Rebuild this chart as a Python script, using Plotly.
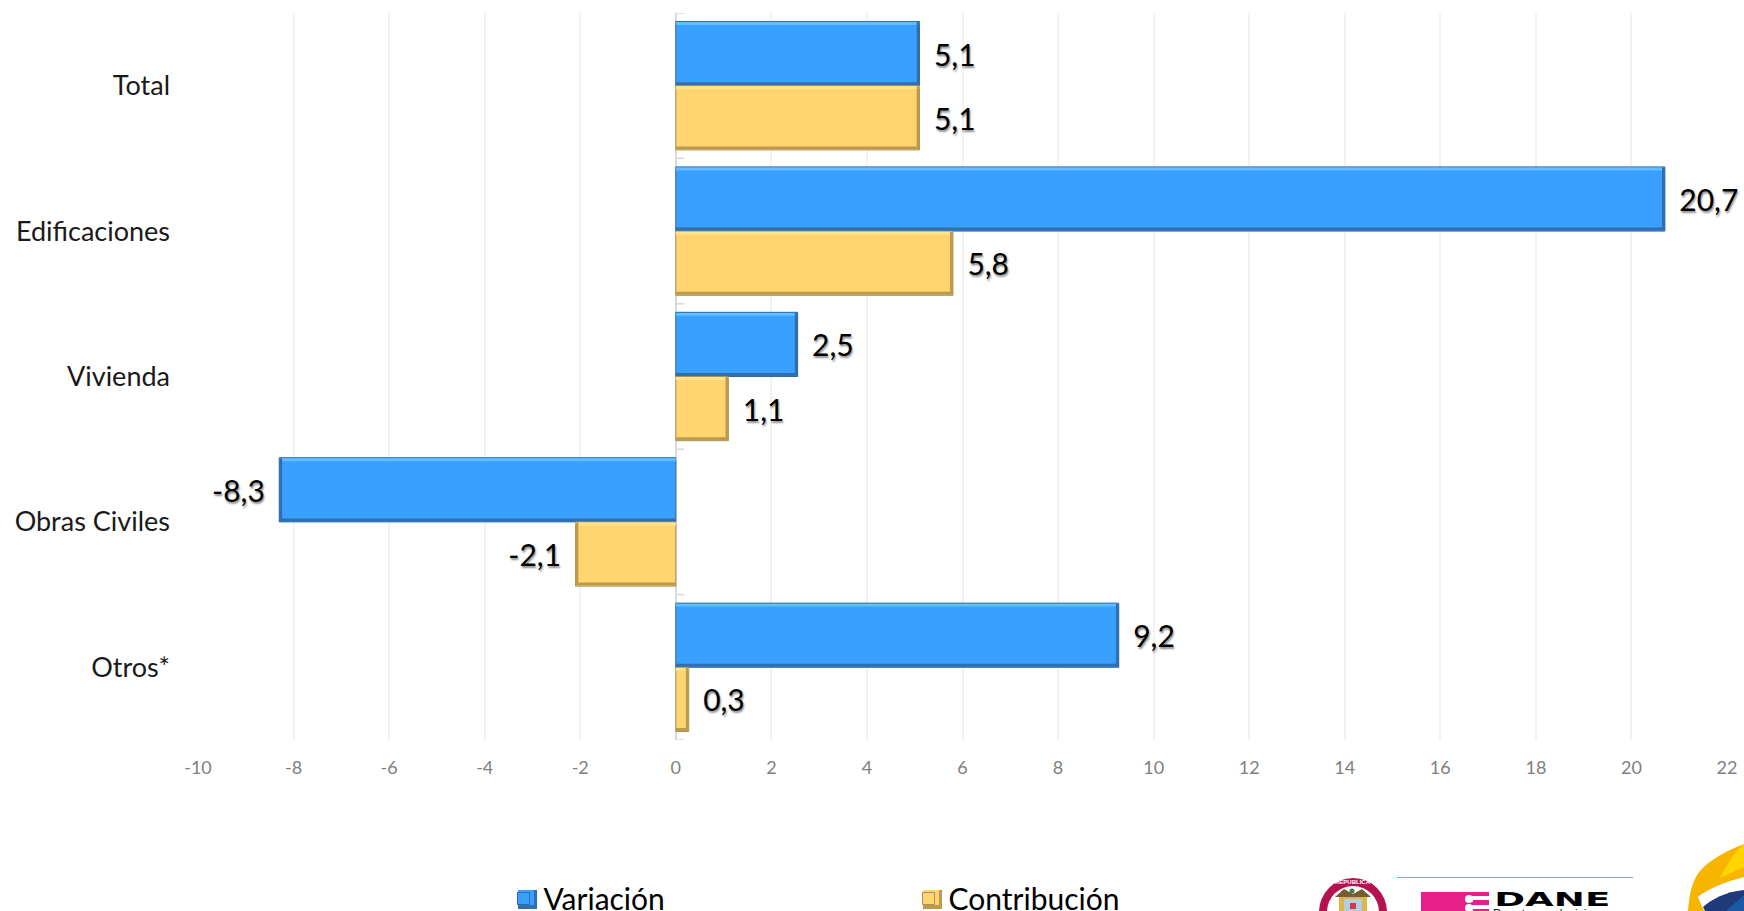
import plotly.graph_objects as go

categories = ['Total', 'Edificaciones', 'Vivienda', 'Obras Civiles', 'Otros*']
variacion = [5.1, 20.7, 2.55, -8.3, 9.27]
contribucion = [5.1, 5.8, 1.1, -2.1, 0.27]
variacion_labels = ['5,1', '20,7', '2,5', '-8,3', '9,2']
contribucion_labels = ['5,1', '5,8', '1,1', '-2,1', '0,3']
x_ticks = list(range(-10, 24, 2))

W, H = 1744, 911
L, R, T, B = 198, 17, 13, 171
FONT = 'Lato'
BLUE = dict(fill='#39A0FF', light='#62BEFF', dark='#2F6FB0', line='#2C6CA8')
GOLD = dict(fill='#FFD56F', light='#FFE590', dark='#BD9A4C', line='#A8905A')
BAR_GAP = 0.117
BAR_W = (1 - BAR_GAP) / 2


def px(x):
    return (x - L) / (W - L - R)


def py(y):
    return 1 - (y - T) / (H - T - B)


def pad(labels):
    sp = '\u00a0\u2009'
    return [sp + t + sp for t in labels]


fig = go.Figure()
for name, values, text, col in [('Variación', variacion, variacion_labels, BLUE),
                                ('Contribución', contribucion, contribucion_labels, GOLD)]:
    fig.add_trace(go.Bar(
        y=categories,
        x=values,
        name=name,
        orientation='h',
        marker=dict(color=col['fill'], line=dict(color=col['line'], width=1)),
        text=pad(text),
        textposition='outside',
        constraintext='none',
        cliponaxis=False,
        textfont=dict(family=FONT, size=30, color='#000000',
                      shadow='1px 2px 2px rgba(0,0,0,0.45)'),
        hoverinfo='skip',
    ))

shapes = []


def rect(x0, x1, y0, y1, color, **kw):
    shapes.append(dict(type='rect', x0=x0, x1=x1, y0=y0, y1=y1, fillcolor=color,
                       line=dict(width=0), **kw))


def pxrect(x0, x1, y0, y1, color):
    rect(px(x0), px(x1), py(y0), py(y1), color, xref='paper', yref='paper')


def circle(cx, cy, r, color):
    shapes.append(dict(type='circle', xref='paper', yref='paper', x0=px(cx - r), x1=px(cx + r),
                       y0=py(cy - r), y1=py(cy + r), fillcolor=color, line=dict(width=0)))


def path(points, color):
    d = 'M' + ' '.join(points) + ' Z'
    shapes.append(dict(type='path', xref='paper', yref='paper', path=d,
                       fillcolor=color, line=dict(width=0)))


def p(x, y):
    return f'{px(x):.5f},{py(y):.5f}'


# bisel de las barras (excel 3d)
for offset, values, col in [(-BAR_W, variacion, BLUE), (0, contribucion, GOLD)]:
    for i, v in enumerate(values):
        top = i + offset
        sign = 1 if v > 0 else -1
        rect(0, v, top + 0.004, top + 0.024, col['light'], xref='x', yref='y')
        rect(0, v, top + BAR_W - 0.024, top + BAR_W - 0.004, col['dark'], xref='x', yref='y')
        rect(v - sign * 0.06, v, top + 0.004, top + BAR_W - 0.004, col['dark'], xref='x', yref='y')

# marcas del eje de categorias
for i in range(len(categories) + 1):
    shapes.append(dict(type='line', xref='x', yref='y', x0=0, x1=0.18, y0=i - 0.5, y1=i - 0.5,
                       line=dict(color='#D9D9D9', width=1.5), layer='below'))

# cuadros de la leyenda
for x0, col in [(518, BLUE), (923, GOLD)]:
    pxrect(x0, x0 + 19, 890, 909, col['fill'])
    pxrect(x0, x0 + 19, 905, 909, col['dark'])
    pxrect(x0 + 16, x0 + 19, 890, 909, col['dark'])

# escudo
circle(1353, 912, 34, '#B5134F')
circle(1353, 912, 26, '#FFFFFF')
pxrect(1339, 1367, 897, 911, '#D8B84C')
pxrect(1344, 1362, 899, 911, '#B9CBE0')
pxrect(1350, 1356, 903, 909, '#C8404A')
path([p(1335, 897), 'L' + p(1344, 889), 'L' + p(1353, 894), 'L' + p(1362, 889),
      'L' + p(1371, 897), 'L' + p(1353, 897)], '#7A5A30')
circle(1352, 891, 2.5, '#3F7D4A')

# logo DANE
shapes.append(dict(type='line', xref='paper', yref='paper', x0=px(1397), x1=px(1633),
                   y0=py(877.5), y1=py(877.5), line=dict(color='#E8799F', width=1.2)))
pxrect(1421, 1473, 892, 911, '#E6208A')
pxrect(1473, 1489, 892, 896, '#E6208A')
pxrect(1473, 1489, 900, 905, '#E6208A')
pxrect(1473, 1489, 909, 911, '#E6208A')
circle(1469, 899, 4, '#FFFFFF')
circle(1469, 908, 4, '#FFFFFF')
pxrect(1469, 1473, 896, 902, '#FFFFFF')
pxrect(1469, 1473, 905, 911, '#FFFFFF')

# logo derecha
path([p(1688, 911), f'C{p(1690, 890)} {p(1692, 885)} {p(1697, 875)}',
      f'C{p(1703, 865)} {p(1720, 853)} {p(1744, 844)}', 'L' + p(1744, 878),
      f'C{p(1725, 882)} {p(1708, 889)} {p(1698, 897)}', 'L' + p(1704, 911)], '#F7B500')
path([p(1744, 844), 'L' + p(1744, 867), 'L' + p(1720, 878),
      f'C{p(1728, 862)} {p(1736, 851)} {p(1744, 844)}'], '#FFD500')
path([p(1698, 897), f'C{p(1708, 889)} {p(1725, 882)} {p(1744, 877)}', 'L' + p(1744, 890),
      f'C{p(1725, 892)} {p(1712, 899)} {p(1703, 907)}'], '#FFFFFF')
path([p(1703, 907), f'C{p(1712, 899)} {p(1725, 892)} {p(1744, 890)}', 'L' + p(1744, 911),
      'L' + p(1705, 911)], '#1E3A78')
path([p(1726, 911), 'L' + p(1744, 895), 'L' + p(1744, 911)], '#1B5AA0')

fig.update_layout(
    width=W,
    height=H,
    margin=dict(l=L, r=R, t=T, b=B, autoexpand=False),
    paper_bgcolor='white',
    plot_bgcolor='white',
    barmode='group',
    bargap=BAR_GAP,
    bargroupgap=0,
    shapes=shapes,
    font=dict(family=FONT, color='#000000'),
    xaxis=dict(
        range=[-10, 22],
        tickmode='array',
        tickvals=x_ticks,
        ticktext=[str(t) for t in x_ticks],
        tickfont=dict(family=FONT, size=18, color='#808080'),
        showgrid=True,
        gridcolor='#F2F2F2',
        gridwidth=2,
        zeroline=True,
        zerolinecolor='#D9D9D9',
        zerolinewidth=1.5,
        ticks='',
        ticklabelstandoff=15,
    ),
    yaxis=dict(
        type='category',
        categoryorder='array',
        categoryarray=categories,
        range=[len(categories) - 0.5, -0.5],
        tickfont=dict(family=FONT, size=27, color='#1A1A1A'),
        showgrid=False,
        zeroline=False,
        ticks='',
        ticklabelstandoff=27,
    ),
    legend=dict(
        orientation='h',
        x=px(503.5),
        xanchor='left',
        y=py(872.5),
        yanchor='top',
        entrywidth=360,
        entrywidthmode='pixels',
        font=dict(family=FONT, size=30, color='#000000'),
        bgcolor='rgba(0,0,0,0)',
    ),
    annotations=[
        dict(text='DANE', xref='paper', yref='paper', x=px(1552), y=py(899), xanchor='center',
             yanchor='middle', showarrow=False, font=dict(family='DejaVu Sans', size=20, color='#000000', weight='bold')),
        dict(text='Para tomar decisiones', xref='paper', yref='paper', x=px(1552), y=py(905), xanchor='center',
             yanchor='top', showarrow=False, font=dict(family='Liberation Sans', size=12, color='#222222')),
        dict(text='REPUBLICA', xref='paper', yref='paper', x=px(1353), y=py(882), xanchor='center',
             yanchor='middle', showarrow=False, font=dict(family='Liberation Sans', size=6, color='#FFFFFF', weight='bold')),
    ],
)

# el logotipo DANE es muy ancho, se estira el texto
post = """document.body.style.margin='0';document.body.style.overflow='hidden';
document.querySelectorAll('.annotation-text').forEach(function(t){
  if(t.textContent==='DANE'){t.setAttribute('textLength','116');t.setAttribute('lengthAdjust','spacingAndGlyphs');}
});"""
fig.write_html('out.html', post_script=post, config=dict(displayModeBar=False))
